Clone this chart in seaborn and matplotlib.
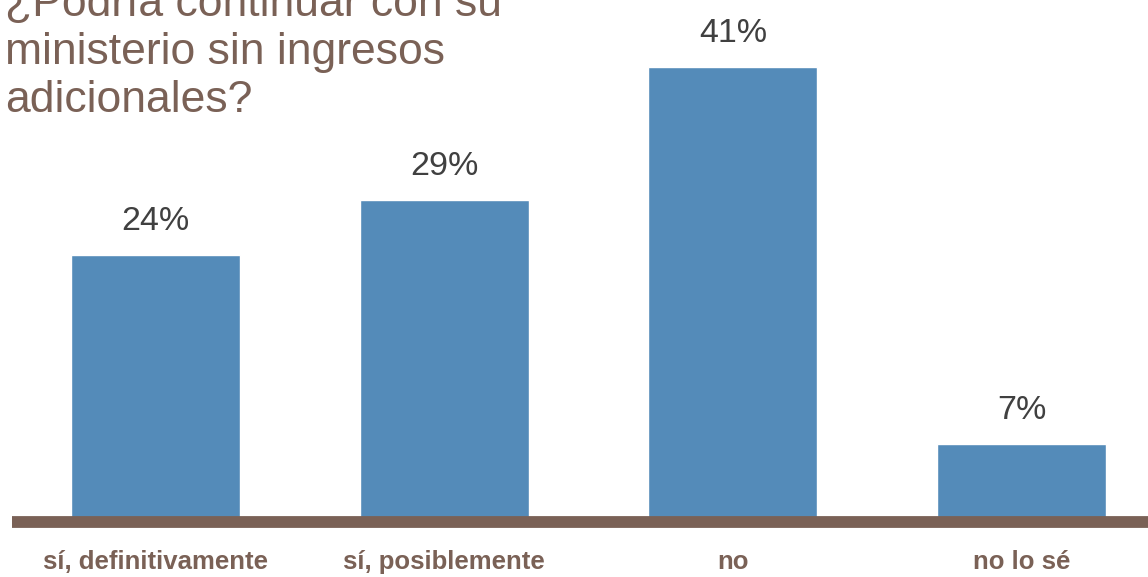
import pandas as pd
import matplotlib
matplotlib.use("Agg")
import matplotlib.pyplot as plt
import seaborn as sns

# data
categories = ["sí, definitivamente", "sí, posiblemente", "no", "no lo sé"]
values = [24, 29, 41, 7]
value_labels = ["24%", "29%", "41%", "7%"]
title = "¿Podría continuar con su\nministerio sin ingresos\nadicionales?"

BAR_COLOR = "#548BB9"
BROWN = "#7A6156"
LABEL_COLOR = "#404040"

df = pd.DataFrame({"respuesta": categories, "pct": values})

sns.set_theme(style="white")
plt.rcParams["font.family"] = ["Liberation Sans", "DejaVu Sans"]

fig = plt.figure(figsize=(11.48, 5.77), dpi=100)
ax = fig.add_axes([12 / 1148, (577 - 522) / 577, 1136 / 1148, 522 / 577])

sns.barplot(data=df, x="respuesta", y="pct", color=BAR_COLOR, width=0.585,
            saturation=1, ax=ax)

ax.set_xlim(-0.497, 3.438)
ax.set_ylim(0, 47)
ax.set_xlabel("")
ax.set_ylabel("")
ax.set_yticks([])

for s in ["top", "right", "left"]:
    ax.spines[s].set_visible(False)
ax.spines["bottom"].set_color(BROWN)
ax.spines["bottom"].set_linewidth(8.5)
ax.spines["bottom"].set_capstyle("butt")
ax.spines["bottom"].set_zorder(5)

ax.tick_params(axis="x", length=0, pad=20)
for lbl in ax.get_xticklabels():
    lbl.set_fontweight("bold")
    lbl.set_fontsize(18.5)
    lbl.set_color(BROWN)

for i, (v, t) in enumerate(zip(values, value_labels)):
    ax.annotate(t, (i, v), xytext=(0, 13), textcoords="offset points",
                ha="center", va="bottom", fontsize=24.5, color=LABEL_COLOR)

fig.text(5 / 1148, 1 - 112 / 577, title, ha="left", va="baseline",
         fontsize=32, color=BROWN, linespacing=1.22)

fig.savefig("out.png", dpi=100)
